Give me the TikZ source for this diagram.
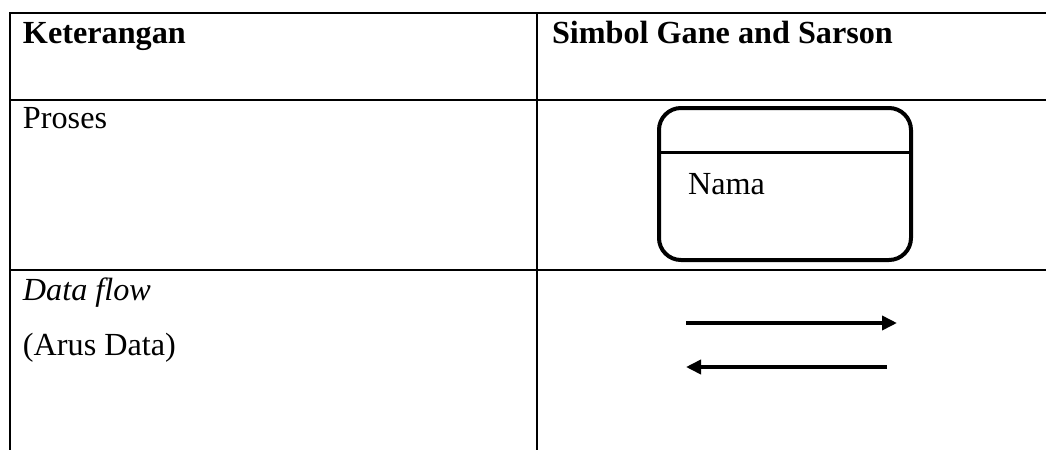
\documentclass[tikz,border=0pt]{standalone}
\usepackage{fontspec}
\setmainfont{Liberation Serif}
\usetikzlibrary{arrows.meta}

\begin{document}
\begin{tikzpicture}[
x=0.5pt, y=-0.5pt,
every node/.style = {inner sep=0pt, outer sep=0pt, font=\fontsize{16.1}{19}\selectfont},
cell/.style = {anchor=base west},
head/.style = {cell, font=\fontsize{16.1}{19}\selectfont\bfseries},
rule/.style = {line width=1.25pt},
prosesbox/.style = {draw, line width=2pt, rounded corners=11pt, minimum width=126pt, minimum height=76pt},
flow/.style = {line width=1.8pt, -{Triangle[length=7.5pt,width=7pt]}},
]
  \useasboundingbox (0,0) rectangle (1046,450);

  % table rules
  \draw[rule, line join=miter] (1046,13) -- (10,13) -- (10,450);
  \draw[rule] (10,100) -- (1046,100);
  \draw[rule] (10,270) -- (1046,270);
  \draw[rule] (537,13) -- (537,450);

  % header
  \node[head] (ket) at (23,43) {Keterangan};
  \node[head] (sim) at (552,43) {Simbol Gane and Sarson};

  % row: proses
  \node[cell] (proses) at (23,128) {Proses};
  \node[prosesbox] (proc) at (785,184) {};
  \draw[line width=1.5pt] ([yshift=-22pt]proc.north west) -- ([yshift=-22pt]proc.north east);
  \node[cell] (nama) at (688,194) {Nama};

  % row: data flow
  \node[cell] (flowtxt) at (23,300) {\itshape Data flow};
  \node[cell] (arus) at (23,355) {(Arus Data)};
  \coordinate (fwdA) at (686,323);
  \coordinate (fwdB) at (897,323);
  \coordinate (bckA) at (887,367);
  \coordinate (bckB) at (686,367);
  \draw[flow] (fwdA) -- (fwdB);
  \draw[flow] (bckA) -- (bckB);
\end{tikzpicture}
\end{document}
